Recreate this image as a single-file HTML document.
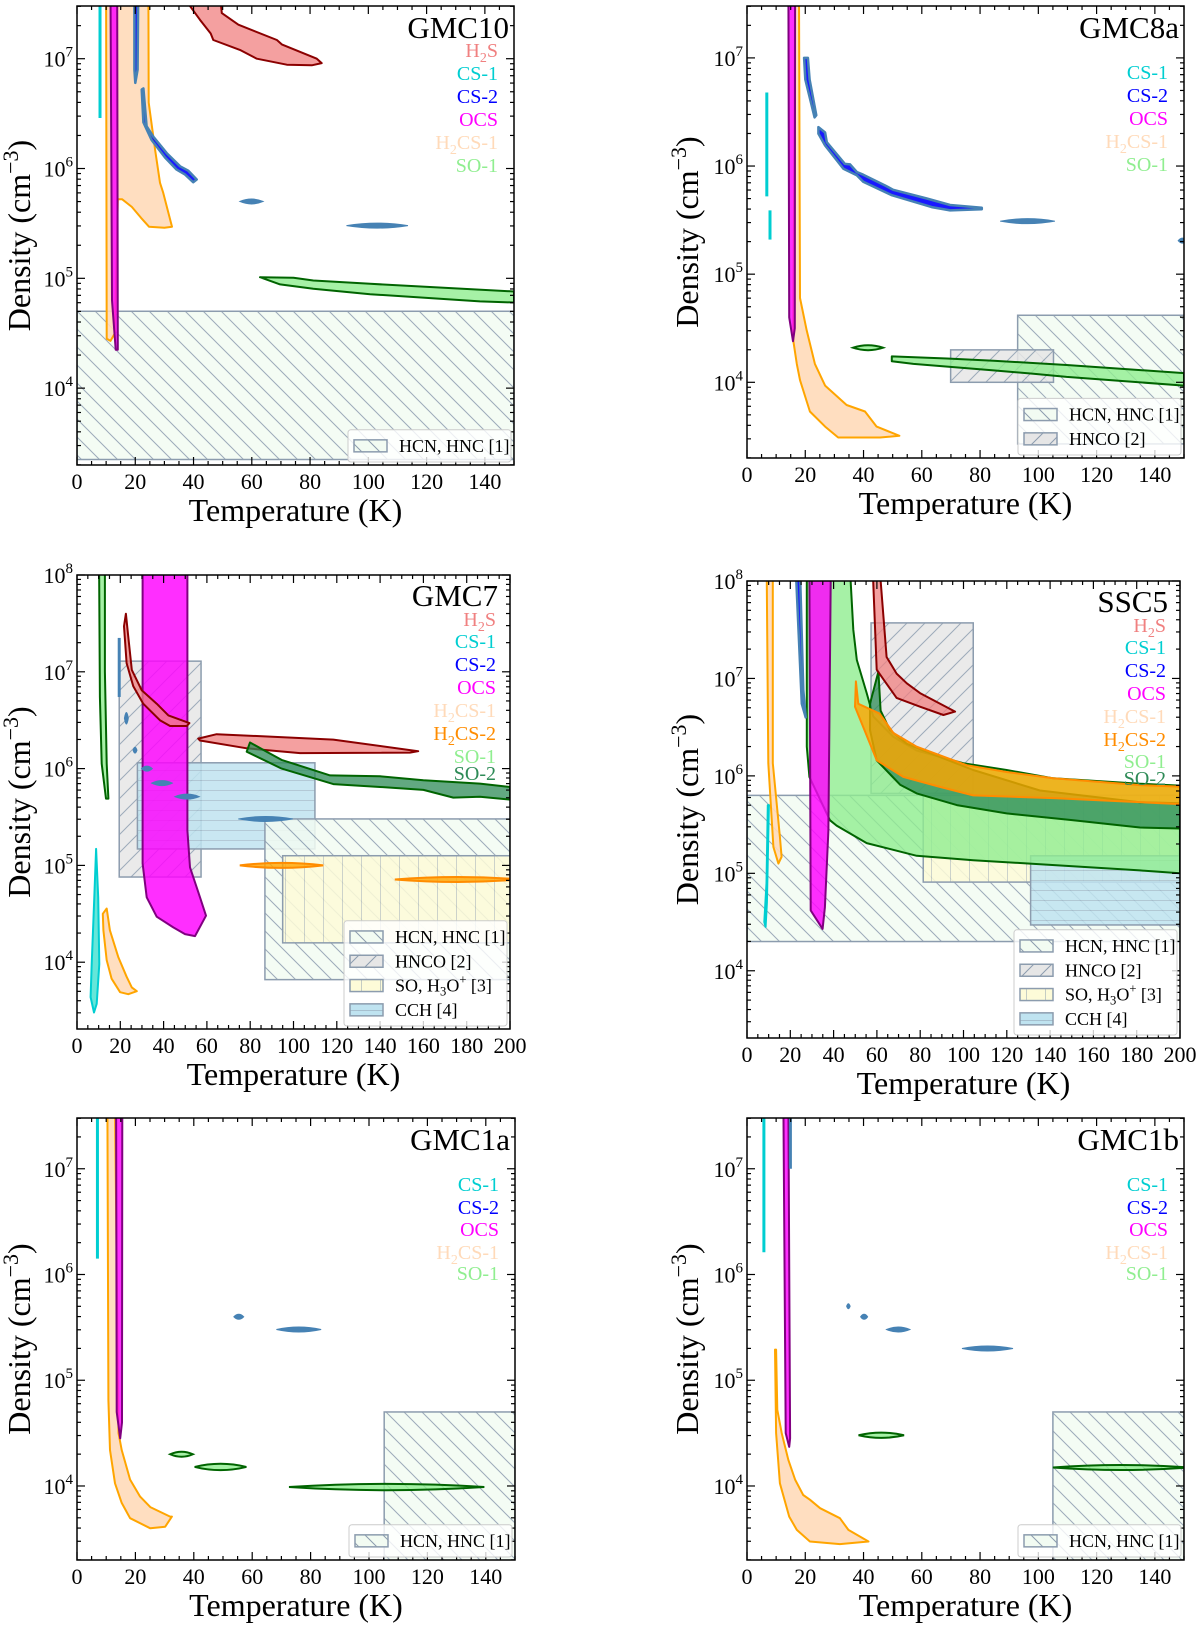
<!DOCTYPE html>
<html><head><meta charset="utf-8">
<style>
html,body{margin:0;padding:0;background:#fff;}
svg{display:block;font-family:"Liberation Serif","DejaVu Serif",serif;}
</style></head>
<body>
<svg id="fig" width="1200" height="1642" viewBox="0 0 1200 1642">
<defs>
<pattern id="hHCN" patternUnits="userSpaceOnUse" width="18" height="18">
<rect width="18" height="18" fill="#f2fbf2"/>
<path d="M0,0 L18,18 M-9,9 L9,27 M9,-9 L27,9" stroke="#8c9cae" stroke-width="1"/>
</pattern>
<pattern id="hHNCO" patternUnits="userSpaceOnUse" width="18" height="18">
<rect width="18" height="18" fill="#e6e6e6"/>
<path d="M0,18 L18,0 M-9,9 L9,-9 M9,27 L27,9" stroke="#8c9cae" stroke-width="1"/>
</pattern>
<pattern id="hSO" patternUnits="userSpaceOnUse" width="19" height="19">
<rect width="19" height="19" fill="#fdfbd8"/>
<path d="M0,0 L0,19" stroke="#8c9cae" stroke-width="1"/>
</pattern>
<pattern id="hCCH" patternUnits="userSpaceOnUse" width="10" height="10">
<rect width="10" height="10" fill="#bfe3f0"/>
<path d="M0,0 L10,0" stroke="#8c9cae" stroke-width="1"/>
</pattern>
</defs>
</svg>
<script>
// ---------- data (T in K, density as log10 n) ----------
// GMC10
const g10_h2s=[[35.5,7.6],[49,7.6],[49.7,7.415],[55.4,7.31],[68.6,7.17],[70.3,7.13],[82.3,7.0],[84,6.96],[80.6,6.94],[72,6.945],[61.7,7.0],[55.9,7.08],[46.8,7.17],[45.9,7.23],[42.2,7.355]];
const g10_cs1=[[7.9,7.6,6.46]];
const g10_h2cs1=[[10,7.6],[24.5,7.6],[24.6,6.6],[26.8,6.17],[28.5,5.87],[29.6,5.78],[32.6,5.47],[30,5.46],[24.7,5.47],[22,5.55],[18.8,5.65],[15.5,5.72],[14,5.72],[13,4.5],[11.5,4.43],[10.2,4.45]];
const g10_ocs=[[11.5,7.6],[13.8,7.6],[14,4.35],[13.3,4.35],[12,4.8]];
const g10_cs2a=[[19.7,7.6],[21,7.6],[20.8,6.9],[20,6.78],[19.7,6.9]];
const g10_cs2b=[[22.8,6.73],[23.9,6.385],[26.2,6.29],[30.8,6.14],[35.4,6.02],[38.2,5.98],[41.1,5.9],[39.9,5.875],[37.1,5.945],[34.2,5.99],[30.2,6.10],[25.6,6.26],[22.8,6.42],[22.2,6.72]];
const g10_cs2e=[[55.9,63.9,5.70,0.012],[92.5,113.6,5.48,0.012]];
const g10_so1=[[62.8,5.01],[74.3,5.005],[81.1,4.98],[100.6,4.95],[150,4.88],[150,4.78],[138.3,4.79],[100.6,4.855],[81.1,4.905],[69.7,4.945],[63.4,5.005]];
const g10_boxes=[["hcn",0,150,3.35,4.7]];
// GMC8a
const g8_cs1=[[6.8,6.68,5.72],[7.9,5.59,5.32]];
const g8_ocs=[[14.2,7.6],[16.5,7.6],[16.4,4.5],[15.8,4.38],[14.5,4.6]];
const g8_h2cs1=[[16.5,7.6],[17.85,7.6],[18.2,4.78],[20.5,4.48],[23.3,4.17],[26.8,3.97],[34.2,3.79],[40.5,3.73],[44.5,3.59],[52.3,3.505],[45.7,3.49],[31.3,3.49],[26.8,3.59],[21.6,3.73],[18.2,4.02],[17.1,4.17],[15.9,4.385]];
const g8_cs2a=[[19.6,7.0],[20.9,7.0],[21.5,6.8],[23.8,6.47],[23.2,6.45],[20,6.8]];
const g8_cs2b=[[24.5,6.36],[26.8,6.31],[27.4,6.22],[33.6,6.02],[35.4,6.015],[37.7,5.945],[39.9,5.92],[47.4,5.82],[50.2,5.78],[61.7,5.70],[69.7,5.64],[80.6,5.615],[80.6,5.60],[69.7,5.59],[63.4,5.62],[49.7,5.73],[39.9,5.855],[37.7,5.915],[33.1,5.975],[26.8,6.19],[24.5,6.30]];
const g8_cs2e=[[86.9,105.7,5.49,0.012],[148,151,5.31,0.01]];
const g8_so1=[[49.7,4.24],[68.6,4.22],[84.6,4.20],[109.7,4.16],[150,4.085],[150,3.97],[109.7,4.05],[98.3,4.08],[84.6,4.11],[57.1,4.17],[49.7,4.195]];
const g8_so1e=[[36.4,46.7,4.32,0.02]];
const g8_boxes=[["hcn",92.9,150,3.43,4.62],["hnco",69.9,105.2,4.0,4.30]];
// GMC7
const g7_so1=[[10.2,8.1],[10.6,6.74],[11.4,6.05],[13.4,5.69],[14.5,5.69],[13.7,6.05],[12.9,7.0],[12.9,8.1]];
const g7_cs1p=[[8.8,5.17],[9.8,4.67],[10.3,3.98],[9.1,3.57],[7.85,3.48],[6.3,3.64],[6.8,3.98],[8.0,4.67]];
const g7_h2cs1=[[11.9,4.50],[13.7,4.555],[15.2,4.33],[19.1,4.05],[22.9,3.85],[25.3,3.74],[27.6,3.70],[23.7,3.67],[19.9,3.69],[16.0,3.83],[13.7,4.02],[12.2,4.33]];
const g7_ocs=[[30.3,8.1],[30.3,5.02],[32.2,4.67],[36.8,4.47],[44.5,4.36],[49.9,4.29],[54.5,4.27],[59.6,4.48],[56.8,4.67],[52.2,4.98],[51.0,5.36],[51.0,8.1]];
const g7_h2sa=[[22.6,7.60],[23.7,7.36],[25.3,7.02],[29.9,6.81],[36.8,6.67],[42.2,6.55],[51.9,6.47],[50.7,6.44],[43.0,6.44],[38.3,6.50],[30.6,6.67],[26.0,6.85],[22.9,7.09],[21.7,7.47]];
const g7_h2sb=[[56.0,6.31],[64.5,6.355],[118.4,6.30],[157.6,6.18],[153.8,6.165],[103,6.16],[78.4,6.21],[56.8,6.29]];
const g7_so2=[[79.9,6.27],[87.6,6.175],[94.5,6.09],[116.9,5.93],[140,5.92],[160,5.88],[186.1,5.845],[200,5.81],[200,5.68],[186.1,5.71],[173.8,5.70],[160,5.78],[140,5.81],[118.4,5.84],[94.5,6.00],[78.4,6.175]];
const g7_cs2l=[[19.5,7.35,6.74]];
const g7_cs2e=[[21.9,23.7,6.52,0.06],[25.9,27.7,6.19,0.03],[29.8,34.8,6.0,0.02],[34.5,44,5.85,0.02],[45.2,56.5,5.71,0.015],[74.5,99.7,5.48,0.01]];
const g7_h2cs2e=[[75.2,113.8,5.0,0.012],[146.8,205,4.855,0.012]];
const g7_boxes=[["hnco",19.5,57.3,4.88,7.11],["cch",27.9,109.9,5.17,6.06],["hcn",86.8,200,3.82,5.48],["so",95,200,4.20,5.10]];
// SSC5
const s5_h2cs1=[[9.1,8.1],[9.85,6.13],[12.2,5.27],[14.5,5.10],[16.0,5.17],[15.2,5.375],[11.9,6.13],[11.9,8.1]];
const s5_cs1p=[[9.6,5.70],[10.1,5.70],[9.2,4.7],[8.6,4.45],[8.0,4.5],[9.0,4.9]];
const s5_cs2=[[22.6,8.1],[25.3,6.74],[27.1,6.60],[26.0,6.88],[24.5,8.1]];
const s5_so1=[[27.6,8.1],[47.6,8.1],[49.1,7.50],[50.7,7.19],[55.3,6.85],[58.3,6.61],[67.6,6.40],[78.4,6.26],[99.9,6.13],[119.9,6.06],[141.5,5.975],[181.5,5.92],[200,5.9],[200,5.0],[181.5,5.03],[130.7,5.10],[104.5,5.135],[78.4,5.18],[55.3,5.31],[41.4,5.49],[38.3,5.545],[28.8,5.99],[27.6,6.30]];
const s5_so2=[[56.8,6.74],[60.7,7.07],[61.7,6.67],[66.0,6.47],[73.8,6.33],[81.4,6.26],[104.5,6.06],[135.3,5.85],[181.5,5.73],[200,5.72],[200,5.46],[181.5,5.47],[150.7,5.545],[119.9,5.615],[96.9,5.70],[78.4,5.82],[70.7,5.91],[59.9,6.16],[56.8,6.47]];
const s5_h2cs2=[[50.3,6.97],[51.4,6.74],[61.2,6.64],[67.6,6.44],[78.4,6.30],[101.5,6.11],[119.9,6.04],[141.5,5.975],[181.5,5.905],[200,5.89],[200,5.71],[143,5.77],[104.5,5.80],[88.7,5.89],[72.2,5.99],[59.9,6.16],[49.9,6.71]];
const s5_ocs=[[28.8,8.1],[29.4,4.62],[34.9,4.43],[36.0,4.65],[37.6,5.44],[38.7,8.1]];
const s5_h2s=[[58.1,8.1],[59.9,7.09],[63.7,6.97],[69.1,6.80],[79.9,6.71],[90.7,6.625],[96.1,6.66],[79.9,6.85],[73.8,6.95],[69.1,7.05],[64.5,7.22],[61.4,8.1]];
const s5_boxes=[["hcn",0,200,4.30,5.80],["hnco",57.3,104.5,5.82,7.57],["so",81.4,200,4.91,5.80],["cch",131,200,4.47,5.18]];
// GMC1a
const g1a_cs1=[[7.0,7.6,6.15]];
const g1a_h2cs1=[[10.4,7.6],[10.75,4.81],[11.3,4.34],[13.0,4.025],[15.3,3.84],[18.2,3.695],[25.1,3.60],[30.2,3.615],[32.5,3.71],[31.9,3.71],[25.1,3.80],[21.6,3.90],[18.2,4.06],[15.3,4.34],[14.2,4.50],[13.0,7.6]];
const g1a_ocs=[[13.4,7.6],[15.5,7.6],[15.4,4.6],[14.8,4.45],[13.6,4.7]];
const g1a_cs2e=[[53.7,57.1,5.60,0.012],[68.3,83.6,5.48,0.012]];
const g1a_so1e=[[31.9,39.7,4.30,0.02],[40.3,58.0,4.18,0.03],[72.6,139.5,3.99,0.03]];
const g1a_boxes=[["hcn",105.2,150,3.2,4.70]];
// GMC1b
const g1b_cs1=[[5.8,7.6,6.21]];
const g1b_ocs=[[12.5,7.6],[14.2,7.6],[14.8,4.45],[14.5,4.37],[13.3,4.5]];
const g1b_cs2l=[[14.9,7.6,7.0]];
const g1b_h2cs1=[[9.6,5.29],[10.0,4.50],[11.3,4.025],[14.5,3.71],[17.1,3.585],[21.6,3.475],[31.9,3.45],[41.7,3.475],[34.8,3.585],[31.9,3.695],[25.1,3.79],[21.6,3.87],[19.3,3.915],[16.5,4.06],[14.2,4.245],[11.9,4.50],[10.4,4.72],[10.0,5.29]];
const g1b_cs2e=[[34.2,35.4,5.70,0.01],[39,41.4,5.60,0.01],[47.9,55.9,5.48,0.012],[73.8,91.3,5.30,0.012]];
const g1b_so1e=[[38.3,53.9,4.48,0.025],[105,152,4.175,0.02]];
const g1b_boxes=[["hcn",105,150,3.2,4.70]];
// tick labels
const xTicks150=[0,20,40,60,80,100,120,140];
const xTicks200=[0,20,40,60,80,100,120,140,160,180,200];

// ---------- rendering ----------
const NS="http://www.w3.org/2000/svg";
const svg=document.getElementById('fig');
function mk(tag,attrs,parent){const e=document.createElementNS(NS,tag);for(const k in attrs)e.setAttribute(k,attrs[k]);parent.appendChild(e);return e;}
const ST={
 h2s:{fill:'#f08080',op:0.75,stroke:'#8b0000',w:2,label:'#f08080'},
 cs1:{fill:'#40e0d0',op:0.8,stroke:'#00ced1',w:2,label:'#00ced1'},
 cs2:{fill:'#0000ff',op:0.9,stroke:'#4682b4',w:2.5,label:'#0000ff'},
 cs2e:{fill:'#4682b4',op:1,stroke:'#4682b4',w:1,label:'#0000ff'},
 ocs:{fill:'#ff00ff',op:0.82,stroke:'#800080',w:2,label:'#ff00ff'},
 h2cs1:{fill:'#ffdab9',op:0.9,stroke:'#ffa500',w:2,label:'#ffdab9'},
 h2cs2:{fill:'#ffa500',op:0.8,stroke:'#ff8c00',w:2,label:'#ff8c00'},
 so1:{fill:'#90ee90',op:0.8,stroke:'#006400',w:2,label:'#90ee90'},
 so2:{fill:'#2e8b57',op:0.75,stroke:'#006400',w:2,label:'#2e8b57'}
};
const BOX={hcn:'url(#hHCN)',hnco:'url(#hHNCO)',so:'url(#hSO)',cch:'url(#hCCH)'};
const BOXLBL={hcn:'HCN, HNC [1]',hnco:'HNCO [2]',so:'SO, H<tspan font-size="70%" dy="4">3</tspan><tspan dy="-4">O</tspan><tspan font-size="70%" dy="-8">+</tspan><tspan dy="8"> [3]</tspan>',cch:'CCH [4]'};
const SPLBL={h2s:'H<tspan font-size="70%" dy="5">2</tspan><tspan dy="-5">S</tspan>',cs1:'CS-1',cs2:'CS-2',ocs:'OCS',h2cs1:'H<tspan font-size="70%" dy="5">2</tspan><tspan dy="-5">CS-1</tspan>',h2cs2:'H<tspan font-size="70%" dy="5">2</tspan><tspan dy="-5">CS-2</tspan>',so1:'SO-1',so2:'SO-2'};

const panels=[
 {id:'gmc10',title:'GMC10',x0:77,x1:514,yT:6,yB:465,tmax:200*0+150,lmin:3.3,lmax:7.48,xt:xTicks150,ylx:30,
  boxes:g10_boxes,legend:['hcn'],labels:['h2s','cs1','cs2','ocs','h2cs1','so1'],lblOff:[23,46,69,92,115,138],
  layers:[['h2cs1','poly',g10_h2cs1],['ocs','poly',g10_ocs],['cs1','line',g10_cs1],['cs2','poly',g10_cs2a],['cs2','poly',g10_cs2b],['cs2e','lens',g10_cs2e],['h2s','poly',g10_h2s],['so1','poly',g10_so1]]},
 {id:'gmc8a',title:'GMC8a',x0:747,x1:1184,yT:6,yB:458,tmax:150,lmin:3.3,lmax:7.48,xt:xTicks150,ylx:698,
  boxes:g8_boxes,legend:['hcn','hnco'],labels:['cs1','cs2','ocs','h2cs1','so1'],lblOff:[45,68,91,114,137],
  layers:[['h2cs1','poly',g8_h2cs1],['ocs','poly',g8_ocs],['cs1','line',g8_cs1],['cs2','poly',g8_cs2a],['cs2','poly',g8_cs2b],['cs2e','lens',g8_cs2e],['so1','lens',g8_so1e],['so1','poly',g8_so1]]},
 {id:'gmc7',title:'GMC7',x0:77,x1:510,yT:575,yB:1029,tmax:200,lmin:3.31,lmax:8,xt:xTicks200,ylx:30,
  boxes:g7_boxes,legend:['hcn','hnco','so','cch'],labels:['h2s','cs1','cs2','ocs','h2cs1','h2cs2','so1','so2'],lblOff:[24,46,69,92,115,138,161,178],
  layers:[['so1','poly',g7_so1],['cs1','poly',g7_cs1p],['h2cs1','poly',g7_h2cs1],['ocs','poly',g7_ocs],['h2s','poly',g7_h2sa],['h2s','poly',g7_h2sb],['so2','poly',g7_so2],['cs2e','line',g7_cs2l],['cs2e','lens',g7_cs2e],['h2cs2','lens',g7_h2cs2e]]},
 {id:'ssc5',title:'SSC5',x0:747,x1:1180,yT:581,yB:1038,tmax:200,lmin:3.31,lmax:8,xt:xTicks200,ylx:698,
  boxes:s5_boxes,legend:['hcn','hnco','so','cch'],labels:['h2s','cs1','cs2','ocs','h2cs1','h2cs2','so1','so2'],lblOff:[24,46,69,92,115,138,160,177],
  layers:[['so1','poly',s5_so1],['so2','poly',s5_so2],['h2cs2','poly',s5_h2cs2],['h2cs1','poly',s5_h2cs1],['cs1','poly',s5_cs1p],['cs2','poly',s5_cs2],['ocs','poly',s5_ocs],['h2s','poly',s5_h2s]]},
 {id:'gmc1a',title:'GMC1a',x0:77,x1:515,yT:1118,yB:1560,tmax:150,lmin:3.3,lmax:7.48,xt:xTicks150,ylx:30,
  boxes:g1a_boxes,legend:['hcn'],labels:['cs1','cs2','ocs','h2cs1','so1'],lblOff:[45,68,90,113,134],
  layers:[['h2cs1','poly',g1a_h2cs1],['ocs','poly',g1a_ocs],['cs1','line',g1a_cs1],['cs2e','lens',g1a_cs2e],['so1','lens',g1a_so1e]]},
 {id:'gmc1b',title:'GMC1b',x0:747,x1:1184,yT:1118,yB:1560,tmax:150,lmin:3.3,lmax:7.48,xt:xTicks150,ylx:698,
  boxes:g1b_boxes,legend:['hcn'],labels:['cs1','cs2','ocs','h2cs1','so1'],lblOff:[45,68,90,113,134],
  layers:[['h2cs1','poly',g1b_h2cs1],['ocs','poly',g1b_ocs],['cs2e','line',g1b_cs2l],['cs1','line',g1b_cs1],['cs2e','lens',g1b_cs2e],['so1','lens',g1b_so1e]]}
];

panels.forEach(function(P){
 const sx=t=>P.x0+t/P.tmax*(P.x1-P.x0);
 const sy=l=>P.yT+(P.lmax-l)/(P.lmax-P.lmin)*(P.yB-P.yT);
 const g=mk('g',{},svg);
 
 
 const cp=mk('clipPath',{id:'clip-'+P.id},g);
 mk('rect',{x:P.x0,y:P.yT,width:P.x1-P.x0,height:P.yB-P.yT},cp);
 const plot=mk('g',{'clip-path':'url(#clip-'+P.id+')'},g);
 
 
 // boxes
 P.boxes.forEach(function(b){
  const r=mk('rect',{x:sx(b[1]),y:sy(b[4]),width:sx(b[2])-sx(b[1]),height:sy(b[3])-sy(b[4]),fill:BOX[b[0]],'fill-opacity':0.85,stroke:'#8c9cae','stroke-width':1.5},plot);
  
  
 });
 // contours
 P.layers.forEach(function(L){
  const s=ST[L[0]];
  if(L[1]==='poly'){
   const d='M'+L[2].map(p=>sx(p[0]).toFixed(1)+','+sy(p[1]).toFixed(1)).join(' L')+' Z';
   const e=mk('path',{d:d,fill:s.fill,'fill-opacity':s.op,stroke:s.stroke,'stroke-width':s.w,'stroke-linejoin':'round'},plot);
   
   
  } else if(L[1]==='line'){
   L[2].forEach(function(v){
    const e=mk('line',{x1:sx(v[0]),x2:sx(v[0]),y1:sy(v[1]),y2:sy(v[2]),stroke:s.stroke,'stroke-width':3},plot);
    
    
   });
  } else {
   L[2].forEach(function(v){
    const xa=sx(v[0]),xb=sx(v[1]),y=sy(v[2]),xm=(xa+xb)/2;
    const h=Math.max(2.5,(sy(v[2]-v[3])-y));
    const d='M'+xa+','+y+' Q'+xm+','+(y-2*h)+' '+xb+','+y+' Q'+xm+','+(y+2*h)+' '+xa+','+y+' Z';
    const e=mk('path',{d:d,fill:s.fill,'fill-opacity':s.op,stroke:s.stroke,'stroke-width':s.w},plot);
    
    
   });
  }
 });
 // frame
 const fr=mk('rect',{x:P.x0,y:P.yT,width:P.x1-P.x0,height:P.yB-P.yT,fill:'none',stroke:'#000','stroke-width':1.5},g);
 
 
 // x ticks
 const tg=mk('g',{stroke:'#000','stroke-width':1.2},g);
 
 
 for(let t=0;t<=P.tmax;t+=5){
  const major=(t%20===0);const len=major?8:4;const x=sx(t);
  mk('line',{x1:x,x2:x,y1:P.yB,y2:P.yB-len},tg);
  mk('line',{x1:x,x2:x,y1:P.yT,y2:P.yT+len},tg);
 }
 for(let e=3;e<=8;e++){
  for(let k=1;k<10;k++){
   const l=e+Math.log10(k);
   if(l<P.lmin||l>P.lmax)continue;
   const y=sy(l);const len=k===1?8:4;
   mk('line',{x1:P.x0,x2:P.x0+len,y1:y,y2:y},tg);
   mk('line',{x1:P.x1,x2:P.x1-len,y1:y,y2:y},tg);
  }
 }
 P.xt.forEach(function(t){
  const tx=mk('text',{x:sx(t),y:P.yB+24,'text-anchor':'middle','font-size':22},g);
  tx.textContent=String(t);
  
  
 });
 for(let e=4;e<=8;e++){
  if(e>P.lmax+0.001)continue;
  const ty=mk('text',{x:P.x0-4,y:sy(e)+8,'text-anchor':'end','font-size':22},g);
  ty.innerHTML='10<tspan font-size="15" dy="-10">'+e+'</tspan>';
  
  
 }
 const xl=mk('text',{x:(P.x0+P.x1)/2,y:P.yB+56,'text-anchor':'middle','font-size':32},g);
 xl.textContent='Temperature (K)';
 
 
 const ym=(P.yT+P.yB)/2;
 const yl=mk('text',{x:P.ylx,y:ym,'text-anchor':'middle','font-size':32,transform:'rotate(-90 '+P.ylx+' '+ym+')'},g);
 yl.innerHTML='Density (cm<tspan font-size="22" dy="-12">−3</tspan><tspan dy="12">)</tspan>';
 
 
 // title + species labels
 const row2=(P.tmax===200);
 const tRight=P.x1-(row2?12:5), lRight=P.x1-(row2?14:16);
 const tc=row2?(P.yT+20):(P.yT+21);
 const tt=mk('text',{x:tRight,y:tc+11,'text-anchor':'end','font-size':31},g);
 tt.textContent=P.title;
 
 
 P.labels.forEach(function(sp,i){
  const lt=mk('text',{x:lRight,y:tc+P.lblOff[i]+7,'text-anchor':'end','font-size':20,fill:ST[sp].label},g);
  lt.innerHTML=SPLBL[sp];
  
  
 });
 // legend
 const n=P.legend.length;
 const lh=24.3, lw=163, lx=P.x1-lw-3, lhgt=8+n*lh, ly=P.yB-3-lhgt;
 const lg=mk('g',{},g);
 
 
 mk('rect',{x:lx,y:ly,width:lw,height:lhgt,rx:3,fill:'#fff','fill-opacity':0.8,stroke:'#cccccc','stroke-width':1},lg);
 P.legend.forEach(function(b,i){
  const cy=ly+4+lh*(i+0.5);
  const pr=mk('rect',{x:lx+6,y:cy-6,width:33,height:12,fill:BOX[b],stroke:'#8c9cae','stroke-width':1.5},lg);
  
  
  const lt=mk('text',{x:lx+51,y:cy+6,'font-size':18},lg);
  lt.innerHTML=BOXLBL[b];
  
  
 });
});
</script>
</body></html>
